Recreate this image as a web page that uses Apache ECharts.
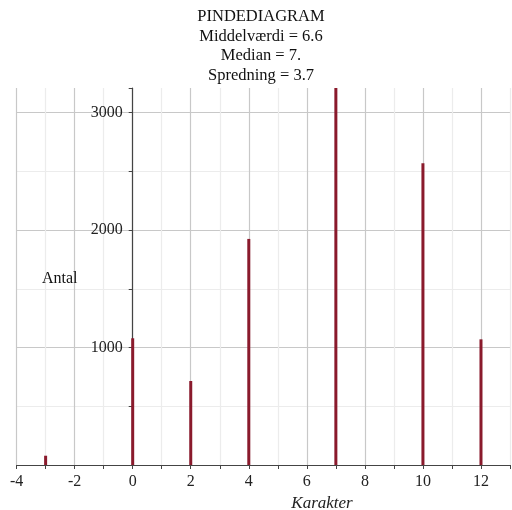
<!DOCTYPE html>
<html><head><meta charset="utf-8">
<script src="https://cdn.jsdelivr.net/npm/echarts@6/dist/echarts.min.js"></script>
<style>html,body{margin:0;padding:0;background:#fff}#c{width:512px;height:510px}</style>
</head><body><div id="c"></div>
<script>
const karakterer = [-3, 0, 2, 4, 7, 10, 12];
const antal = [79, 1079, 715, 1925, 3210, 2570, 1070];
const titleLines = ['PINDEDIAGRAM', 'Middelværdi = 6.6', 'Median = 7.', 'Spredning = 3.7'];
const yLabels = [1000, 2000, 3000];
const xLabels = [-4, -2, 0, 2, 4, 6, 8, 10, 12];

const serif = '"Liberation Serif", "DejaVu Serif", serif';
const chart = echarts.init(document.getElementById('c'), null, {renderer: 'canvas'});
chart.setOption({
  animation: false,
  backgroundColor: '#fff',
  grid: {left: 16.6, right: 2, top: 88, bottom: 45, containLabel: false, outerBoundsMode: 'none'},
  xAxis: {
    type: 'value', min: -4, max: 13, interval: 1,
    axisLine: {onZero: true, lineStyle: {color: '#444', width: 1.2}},
    axisTick: {show: true, length: 4, inside: false, lineStyle: {color: '#444'}},
    axisLabel: {
      margin: 9, color: '#222', fontFamily: serif, fontSize: 16,
      formatter: v => xLabels.indexOf(v) >= 0 ? String(v) : ''
    },
    splitLine: {show: true, lineStyle: {color: ['#c8c8c8', '#ececec'], width: 1.2}}
  },
  yAxis: {
    type: 'value', min: 0, max: 3210, interval: 500,
    axisLine: {show: true, onZero: false, lineStyle: {color: '#444', width: 1.2}},
    axisTick: {show: true, length: 4, lineStyle: {color: '#444'}},
    axisLabel: {
      margin: 10, color: '#222', fontFamily: serif, fontSize: 16,
      formatter: v => yLabels.indexOf(v) >= 0 ? String(v) : ''
    },
    splitLine: {show: true, showMaxLine: false, lineStyle: {color: ['#c8c8c8', '#ececec'], width: 1.2}}
  },
  graphic: [
    {type: 'text', x: 261, y: 7, z: 10,
     style: {text: titleLines.join('\n'), font: '16.5px ' + serif, fill: '#111', align: 'center', lineHeight: 19.5}},
    {type: 'text', x: 42, y: 271, z: 10,
     style: {text: 'Antal', font: '16px ' + serif, fill: '#111'}},
    {type: 'text', x: 322, y: 495, z: 10,
     style: {text: 'Karakter', font: 'italic 17px ' + serif, fill: '#222', align: 'center'}}
  ],
  series: [{
    type: 'bar',
    data: karakterer.map((k, i) => [k, antal[i]]),
    barWidth: 3,
    itemStyle: {color: '#8a1a2c'},
    z: 5
  }]
});
// Place the y axis (line, ticks, labels) at x = 0 using the library's own x scale
const xZero = chart.convertToPixel({xAxisIndex: 0}, 0);
const xMin = chart.convertToPixel({xAxisIndex: 0}, -4);
chart.setOption({yAxis: {offset: -(xZero - xMin)}});
</script></body></html>
